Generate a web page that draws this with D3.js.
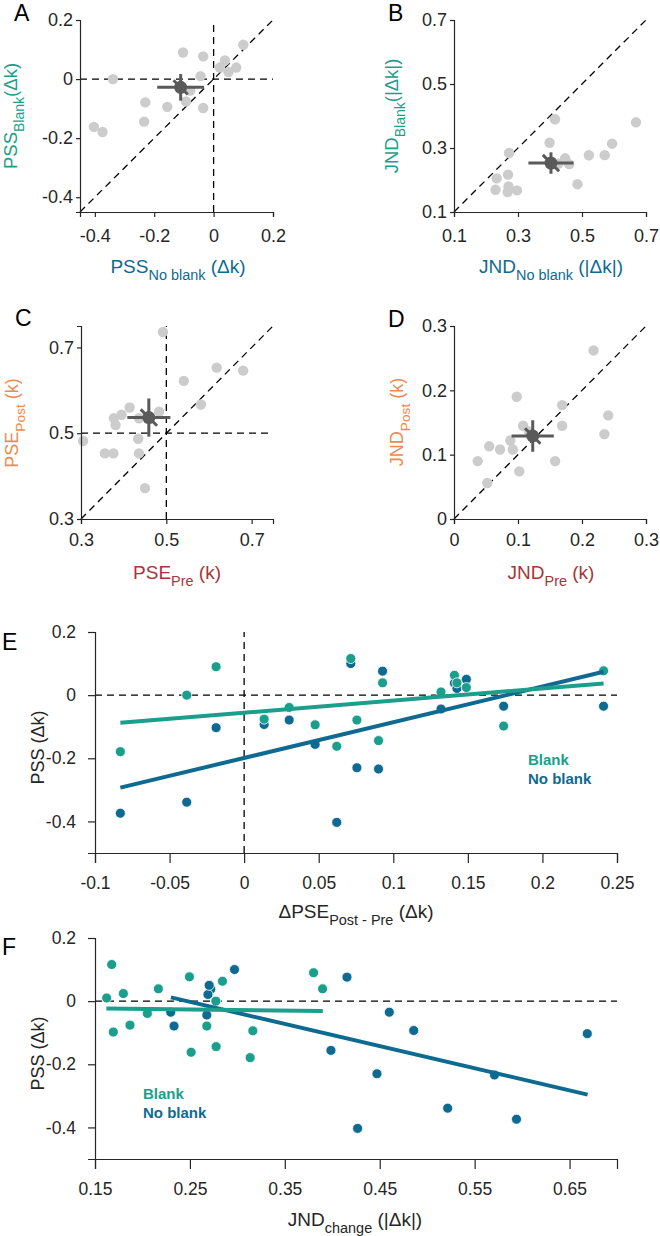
<!DOCTYPE html>
<html>
<head>
<meta charset="utf-8">
<title>PSS / JND panels</title>
<script src="https://cdn.jsdelivr.net/npm/d3@7"></script>
<style>
body { margin: 0; background: #fff; }
svg { display: block; font-family: "Liberation Sans", Arial, sans-serif; }
</style>
</head>
<body>
<svg id="fig" width="660" height="1236"></svg>
<script>
// per-subject values (17 subjects), shared by panels A, B, E and F
var dPSE       = [-0.083, -0.0385, -0.0188, 0.0134, 0.0302, 0.0476, 0.0621, 0.0715, 0.0756, 0.0901, 0.0928, 0.132, 0.141, 0.1427, 0.149, 0.174, 0.241];
var pssBlank   = [-0.179, 0.000, 0.090, -0.076, -0.039, -0.094, -0.162, 0.116, -0.079, -0.144, 0.039, 0.010, 0.063, 0.039, 0.024, -0.098, 0.077];
var pssNoBlank = [-0.374, -0.339, -0.103, -0.093, -0.079, -0.156, -0.403, 0.100, -0.230, -0.234, 0.076, -0.044, 0.038, 0.021, 0.050, -0.035, -0.035];
var jndBlank   = [0.3135, 0.2773, 0.3803, 0.1869, 0.2052, 0.3163, 0.2513, 0.1676, 0.2678, 0.2776, 0.3898, 0.1623, 0.2843, 0.2168, 0.1799, 0.1693, 0.2495];
var jndNoBlank = [0.5941, 0.5216, 0.6687, 0.4858, 0.2333, 0.3986, 0.4267, 0.2970, 0.4471, 0.5709, 0.4155, 0.2678, 0.2720, 0.2690, 0.2703, 0.2298, 0.4601];

// panel C / D
var psePre  = [0.492, 0.618, 0.680, 0.541, 0.581, 0.414, 0.395, 0.377, 0.381, 0.483, 0.436, 0.305, 0.356, 0.376, 0.434, 0.436, 0.450];
var psePost = [0.736, 0.653, 0.646, 0.622, 0.567, 0.560, 0.543, 0.535, 0.519, 0.550, 0.535, 0.482, 0.453, 0.453, 0.487, 0.453, 0.372];
var jndPre  = [0.037, 0.052, 0.055, 0.072, 0.088, 0.092, 0.098, 0.102, 0.108, 0.117, 0.158, 0.169, 0.169, 0.218, 0.235, 0.241];
var jndPost = [0.090, 0.056, 0.113, 0.108, 0.122, 0.108, 0.190, 0.074, 0.145, 0.136, 0.090, 0.145, 0.177, 0.262, 0.132, 0.161];

// group means: [x, y, xErr, yErr, diagErr]
var meanA = [-0.111, -0.028, 0.079, 0.045, 0.034];
var meanB = [0.403, 0.253, 0.0705, 0.0335, 0.036];
var meanC = [0.459, 0.5365, 0.0505, 0.0445, 0.027];
var meanD = [0.123, 0.129, 0.033, 0.0245, 0.017];

// regression line end points
var fitEx = [-0.083, 0.241];
var fitEBlank = [-0.0875, 0.037];
var fitENoBlank = [-0.293, 0.074];
var fitFBlankX = [0.162, 0.390];
var fitFBlank = [-0.023, -0.031];
var fitFNoBlankX = [0.230, 0.669];
var fitFNoBlank = [0.012, -0.296];

var ticksA = [-0.4, -0.2, 0, 0.2];
var ticksB = [0.1, 0.3, 0.5, 0.7];
var ticksC = [0.3, 0.5, 0.7];
var ticksD = [0, 0.1, 0.2, 0.3];
var ticksEx = [-0.1, -0.05, 0, 0.05, 0.1, 0.15, 0.2, 0.25];
var ticksFx = [0.15, 0.25, 0.35, 0.45, 0.55, 0.65];
var ticksPSS = [-0.4, -0.2, 0, 0.2];

var TEAL = '#1b9e8b', BLUE = '#0f6a91', GREY = '#cccccc', MEAN = '#5a5a5a', INK = '#262626';
var ORANGE = '#ef8a4f', RED = '#a6363a';

var svg = d3.select('#fig');

// text with a subscript part: parts = [[text, isSub], ...]
function richText(x, y, parts, fs, color, rotate) {
  var t = svg.append('text')
    .attr('text-anchor', 'middle')
    .attr('fill', color)
    .attr('font-size', fs)
    .attr('transform', 'translate(' + x + ',' + y + ')' + (rotate ? ' rotate(-90)' : ''));
  var down = false;
  parts.forEach(function(p) {
    var s = t.append('tspan').text(p[0]);
    if (p[1]) {
      s.attr('font-size', fs * 0.76).attr('dy', fs * 0.38);
      down = true;
    } else if (down) {
      s.attr('dy', -fs * 0.38);
      down = false;
    }
  });
}

function letter(x, y, s) {
  svg.append('text').attr('x', x).attr('y', y).attr('font-size', 23).attr('fill', '#000').text(s);
}

function axes(x, y, xt, yt, o) {
  var fmt = function(d) { return String(d); };
  var gx = svg.append('g')
    .attr('transform', 'translate(0,' + y.range()[0] + ')')
    .call(d3.axisBottom(x).tickValues(xt).tickFormat(fmt)
      .tickSizeOuter(0).tickSize(o.tx).tickPadding(o.px));
  var gy = svg.append('g')
    .attr('transform', 'translate(' + x.range()[0] + ',0)')
    .call(d3.axisLeft(y).tickValues(yt).tickFormat(fmt)
      .tickSizeOuter(0).tickSize(o.ty).tickPadding(o.py));
  [gx, gy].forEach(function(g) {
    g.selectAll('path, line').attr('stroke', INK).attr('stroke-width', 1.2);
    g.selectAll('text').attr('fill', INK).attr('font-size', o.fs).attr('font-family', null);
  });
}

function dashed(x1, y1, x2, y2) {
  svg.append('line')
    .attr('x1', x1).attr('y1', y1).attr('x2', x2).attr('y2', y2)
    .attr('stroke', '#000').attr('stroke-width', 1.3)
    .attr('stroke-dasharray', '7,5');
}

function scatterPanel(p) {
  var x = d3.scaleLinear().domain(p.dom).range(p.xr);
  var y = d3.scaleLinear().domain(p.dom).range(p.yr);
  // reference lines
  dashed(x(p.dom[0]), y(p.dom[0]), x(p.dom[1]), y(p.dom[1]));
  if (p.cross !== undefined) {
    dashed(x(p.dom[0]), y(p.cross), x(p.dom[1]), y(p.cross));
    dashed(x(p.cross), y(p.dom[0]), x(p.cross), y(p.dom[1]));
  }
  svg.append('g').selectAll('circle')
    .data(d3.range(p.xs.length))
    .join('circle')
    .attr('cx', function(i) { return x(p.xs[i]); })
    .attr('cy', function(i) { return y(p.ys[i]); })
    .attr('r', 5.2)
    .attr('fill', GREY);

  axes(x, y, p.ticks, p.ticks, { tx: 5, ty: 4, px: p.pad, py: 3, fs: 18 });

  // mean with error bars (x, y and across the identity line)
  var m = p.mean, d = m[4] / Math.SQRT2;
  var gm = svg.append('g').attr('stroke', MEAN).attr('stroke-width', 3);
  var segs = [
    [m[0] - m[2], m[1], m[0] + m[2], m[1]],
    [m[0], m[1] - m[3], m[0], m[1] + m[3]],
    [m[0] - d, m[1] + d, m[0] + d, m[1] - d]
  ];
  gm.selectAll('line').data(segs).join('line')
    .attr('x1', function(s) { return x(s[0]); })
    .attr('y1', function(s) { return y(s[1]); })
    .attr('x2', function(s) { return x(s[2]); })
    .attr('y2', function(s) { return y(s[3]); });
  svg.append('circle').attr('cx', x(m[0])).attr('cy', y(m[1])).attr('r', 6.5).attr('fill', MEAN);
}

// ---- A
scatterPanel({ dom: [-0.45, 0.2], xr: [80, 273], yr: [212, 20], xs: pssNoBlank, ys: pssBlank,
  ticks: ticksA, cross: 0, mean: meanA, pad: 12 });
richText(178, 273, [['PSS'], ['No blank', 1], [' (\u0394k)']], 19, BLUE);
richText(17, 116, [['PSS'], ['Blank', 1], ['(\u0394k)']], 18.5, TEAL, true);
letter(14, 21, 'A');

// ---- B
scatterPanel({ dom: [0.1, 0.7], xr: [454, 646], yr: [212, 20], xs: jndNoBlank, ys: jndBlank,
  ticks: ticksB, mean: meanB, pad: 12 });
richText(551, 273, [['JND'], ['No blank', 1], [' (|\u0394k|)']], 19, BLUE);
richText(398, 116, [['JND'], ['Blank', 1], ['(|\u0394k|)']], 18.5, TEAL, true);
letter(388, 21, 'B');

// ---- C
scatterPanel({ dom: [0.3, 0.75], xr: [81, 273], yr: [519, 326], xs: psePre, ys: psePost,
  ticks: ticksC, cross: 0.5, mean: meanC, pad: 9 });
richText(177, 579, [['PSE'], ['Pre', 1], [' (k)']], 19, RED);
richText(18, 423, [['PSE'], ['Post', 1], [' (k)']], 18, ORANGE, true);
letter(15, 326, 'C');

// ---- D
scatterPanel({ dom: [0, 0.3], xr: [454, 646], yr: [519, 326], xs: jndPre, ys: jndPost,
  ticks: ticksD, mean: meanD, pad: 9 });
richText(551, 579, [['JND'], ['Pre', 1], [' (k)']], 19, RED);
richText(403, 422, [['JND'], ['Post', 1], [' (k)']], 18, ORANGE, true);
letter(388, 327, 'D');

// ---- E and F
function pssPanel(p) {
  var x = d3.scaleLinear().domain(p.xdom).range(p.xr);
  var y = d3.scaleLinear().domain([-0.5, 0.2]).range(p.yr);
  dashed(x(p.xdom[0]), y(0), x(p.xdom[1]), y(0));
  if (p.vline) dashed(x(0), y(-0.5), x(0), y(0.2));

  var idx = d3.range(pssBlank.length);
  [[p.xNB, pssNoBlank, BLUE], [p.xB, pssBlank, TEAL]].forEach(function(s) {
    svg.append('g').selectAll('circle').data(idx).join('circle')
      .attr('cx', function(i) { return x(s[0][i]); })
      .attr('cy', function(i) { return y(s[1][i]); })
      .attr('r', 5)
      .attr('fill', s[2])
      .attr('stroke', '#fff').attr('stroke-width', 0.8);
  });

  var line = d3.line().x(function(d) { return x(d[0]); }).y(function(d) { return y(d[1]); });
  p.fits.forEach(function(f) {
    svg.append('path').datum(d3.zip(f[0], f[1])).attr('d', line)
      .attr('fill', 'none').attr('stroke', f[2]).attr('stroke-width', 4);
  });

  axes(x, y, p.xticks, ticksPSS, { tx: 10, ty: 7, px: 14, py: 12, fs: 17.5 });
  richText(44, (p.yr[0] + p.yr[1]) / 2 + 5, [['PSS (\u0394k)']], 18, INK, true);

  svg.append('text').attr('x', p.leg[0]).attr('y', p.leg[1])
    .attr('font-size', 15).attr('font-weight', 'bold').attr('fill', TEAL).text('Blank');
  svg.append('text').attr('x', p.leg[0]).attr('y', p.leg[1] + 19)
    .attr('font-size', 15).attr('font-weight', 'bold').attr('fill', BLUE).text('No blank');
}

pssPanel({ xdom: [-0.1, 0.25], xr: [95, 617], yr: [853, 632], xB: dPSE, xNB: dPSE,
  xticks: ticksEx, vline: true, leg: [528, 765],
  fits: [[fitEx, fitENoBlank, BLUE], [fitEx, fitEBlank, TEAL]] });
richText(356, 918, [['\u0394PSE'], ['Post - Pre', 1], [' (\u0394k)']], 19, INK);
letter(2, 650, 'E');

pssPanel({ xdom: [0.15, 0.7], xr: [95, 617], yr: [1159, 938], xB: jndBlank, xNB: jndNoBlank,
  xticks: ticksFx, vline: false, leg: [143, 1099],
  fits: [[fitFNoBlankX, fitFNoBlank, BLUE], [fitFBlankX, fitFBlank, TEAL]] });
richText(355, 1226, [['JND'], ['change', 1], [' (|\u0394k|)']], 19, INK);
letter(2, 955, 'F');
</script>
</body>
</html>
